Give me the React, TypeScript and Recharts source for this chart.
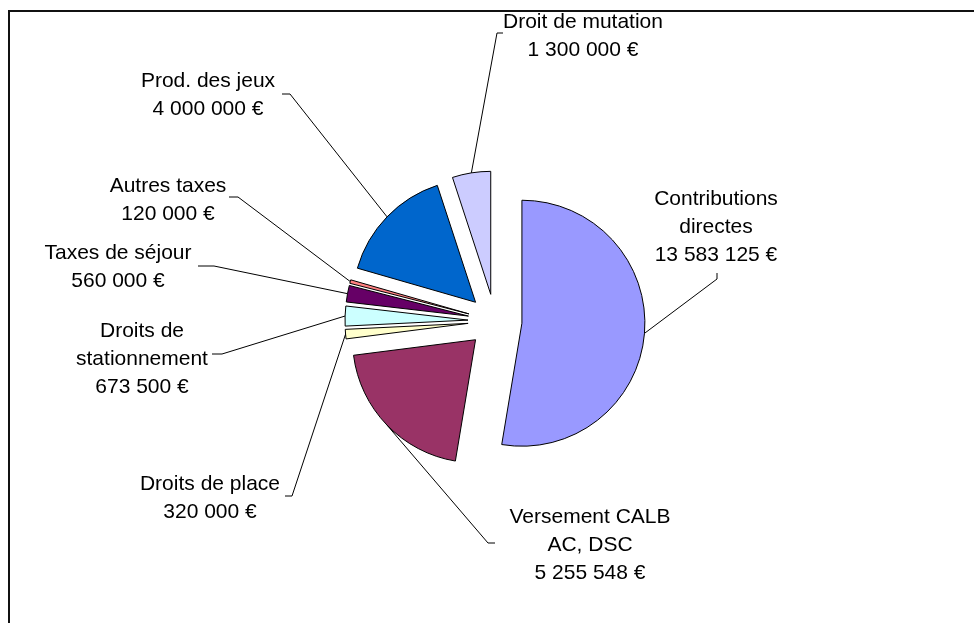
import { Pie, PieChart, Sector } from "recharts";

const NAMES = [
  "Contributions\ndirectes",
  "Versement CALB\nAC, DSC",
  "Droits de place",
  "Droits de\nstationnement",
  "Taxes de séjour",
  "Autres taxes",
  "Prod. des jeux",
  "Droit de mutation",
];

const VALUES = [13583125, 5255548, 320000, 673500, 560000, 120000, 4000000, 1300000];

// Excel 2003 chart fill palette
const COLORS = ["#9999FF", "#993366", "#FFFFCC", "#CCFFFF", "#660066", "#FF8080", "#0066CC", "#CCCCFF"];

// label layout (chart coords): text centre x, first baseline y, leader start + elbow
const LABEL_LAYOUT = [
  { x: 708, y: 197, leader: [[709, 265], [709, 271]] },
  { x: 582, y: 515, leader: [[487, 535], [480, 535]] },
  { x: 202, y: 482, leader: [[277, 488], [284, 488]] },
  { x: 134, y: 329, leader: [[204, 346], [214, 346]] },
  { x: 110, y: 251, leader: [[190, 258], [206, 258]] },
  { x: 160, y: 184, leader: [[221, 189], [230, 189]] },
  { x: 200, y: 79, leader: [[274, 86], [282, 86]] },
  { x: 575, y: 20, leader: [[495, 25], [489, 25]] },
];

const EXPLODE = 27;
const LINE_H = 28;
const FONT = "'Liberation Sans', Arial, sans-serif";
const RAD = Math.PI / 180;

const data = NAMES.map((name, i) => ({ name, value: VALUES[i] }));

function formatEuro(n: number): string {
  return `${String(n).replace(/\B(?=(\d{3})+(?!\d))/g, " ")} €`;
}

function ExplodedSlice(props: any) {
  const { cx, cy, midAngle, outerRadius, startAngle, endAngle, index, value } = props;
  const dx = Math.cos(-midAngle * RAD);
  const dy = Math.sin(-midAngle * RAD);
  const sx = cx + dx * EXPLODE;
  const sy = cy + dy * EXPLODE;
  // leader target: middle of the arc of the exploded slice
  const tx = sx + dx * outerRadius;
  const ty = sy + dy * outerRadius;
  const lay = LABEL_LAYOUT[index];
  const lines = [...NAMES[index].split("\n"), formatEuro(value)];
  const pts = [...lay.leader, [tx, ty]].map((p) => p.join(",")).join(" ");
  return (
    <g>
      <Sector
        cx={sx}
        cy={sy}
        innerRadius={0}
        outerRadius={outerRadius}
        startAngle={startAngle}
        endAngle={endAngle}
        fill={COLORS[index]}
        stroke="#000"
        strokeWidth={1}
      />
      <polyline points={pts} fill="none" stroke="#000" strokeWidth={1} />
      <text x={lay.x} y={lay.y} textAnchor="middle" fontFamily={FONT} fontSize={21} fill="#000">
        {lines.map((l, k) => (
          <tspan key={k} x={lay.x} y={lay.y + k * LINE_H}>
            {l}
          </tspan>
        ))}
      </text>
    </g>
  );
}

export default function App() {
  return (
    <div style={{ position: "relative", width: 958, height: 600, background: "#fff" }}>
      <div
        style={{
          position: "fixed",
          left: 8,
          top: 10,
          right: -10,
          bottom: -10,
          borderTop: "2px solid #111",
          borderLeft: "2px solid #111",
          pointerEvents: "none",
        }}
      />
      <PieChart width={958} height={600}>
        <Pie
          data={data}
          dataKey="value"
          nameKey="name"
          cx={482}
          cy={308}
          innerRadius={0}
          outerRadius={123}
          startAngle={90}
          endAngle={-270}
          fill="transparent"
          stroke="none"
          label={ExplodedSlice}
          labelLine={false}
          isAnimationActive={false}
        />
      </PieChart>
    </div>
  );
}
